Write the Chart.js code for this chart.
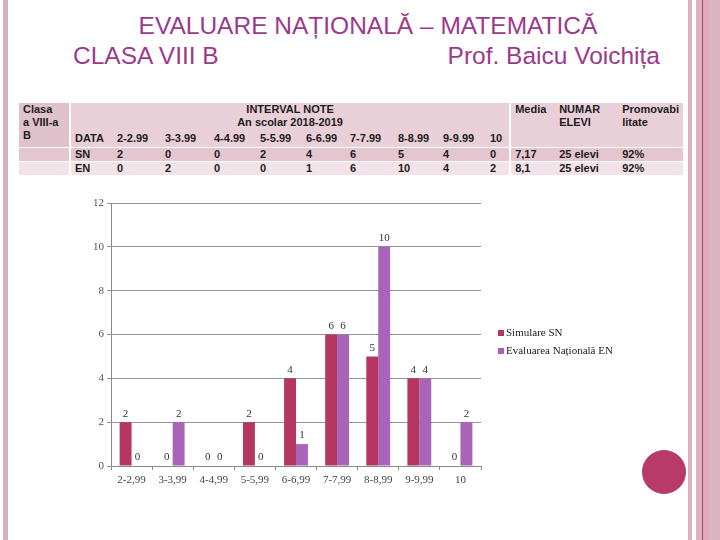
<!DOCTYPE html>
<html><head><meta charset="utf-8">
<script src="https://cdn.jsdelivr.net/npm/chart.js@4.4.0/dist/chart.umd.min.js"></script>
<style>
html,body{margin:0;padding:0;background:#fff;}
body{width:720px;height:540px;position:relative;overflow:hidden;font-family:"Liberation Sans",Arial,sans-serif;}
.abs{position:absolute;}
.title{color:#9b3a8c;font-size:24.5px;line-height:28px;white-space:nowrap;}
#tbl{position:absolute;left:19px;top:103px;width:664px;border-collapse:collapse;table-layout:fixed;font-size:11px;font-weight:bold;color:#1c1c1c;line-height:13px;}
#tbl td{padding:0 0 0 4px;white-space:nowrap;overflow:hidden;vertical-align:top;}
#tbl tr.r1 td{height:22px;background:#e9d0d8;}
#tbl tr.r2 td{height:16px;background:#e9d0d8;vertical-align:bottom;padding-bottom:2px;}
#tbl tr.r3 td{height:12px;background:#e4c6cf;border-top:1px solid #fff;}
#tbl tr.r4 td{height:12px;background:#f1e3e8;border-top:1px solid #fff;}
#tbl td.c1{border-right:2px solid #fff;}
#tbl td.ml{border-left:2px solid #fff;}
#tbl tr.r1 td.c1{background:#e0c2cc;padding-top:0;}
#tbl td.ctr{text-align:center;padding-left:0;}
#chartBox{position:absolute;left:60px;top:193px;width:630px;height:305px;}
</style></head>
<body>
<div class="abs" style="left:3px;top:0;width:5px;height:540px;background:#d6b0bf"></div>
<div class="abs" style="left:688px;top:0;width:4px;height:540px;background:#dcb3c1"></div>
<div class="abs" style="left:696px;top:0;width:6px;height:540px;background:#e2b0c0"></div>
<div class="abs" style="left:702px;top:0;width:1px;height:540px;background:#a84466"></div>
<div class="abs" style="left:703px;top:0;width:6px;height:540px;background:#e3a9bb"></div>
<div class="abs" style="left:709px;top:0;width:11px;height:540px;background:#d9b5c1"></div>

<div class="abs title" style="left:0;width:736px;top:12px;text-align:center;">EVALUARE NAȚIONALĂ – MATEMATICĂ</div>
<div class="abs title" style="left:73px;top:42px;">CLASA VIII B</div>
<div class="abs title" style="right:60px;top:42px;">Prof. Baicu Voichița</div>

<table id="tbl"></table>

<div id="chartBox"><canvas id="c" width="630" height="305"></canvas></div>
<div class="abs" style="left:642px;top:450px;width:44px;height:44px;border-radius:50%;background:#b83a68"></div>

<script>
const categories = ["2-2,99","3-3,99","4-4,99","5-5,99","6-6,99","7-7,99","8-8,99","9-9,99","10"];
const tableIntervals = ["2-2.99","3-3.99","4-4.99","5-5.99","6-6.99","7-7.99","8-8.99","9-9.99","10"];
const seriesNames = ["Simulare SN","Evaluarea Națională EN"];
const rowCodes = ["SN","EN"];
const simulareSN = [2,0,0,2,4,6,5,4,0];
const evaluareEN = [0,2,0,0,1,6,10,4,2];
const media = ["7,17","8,1"];
const numarElevi = ["25 elevi","25 elevi"];
const promovabilitate = ["92%","92%"];
const yMin = 0, yMax = 12, yStep = 2;

// ---- table ----
const colWidths = [51,43,48,49,46,46,44,48,45,47,24,45,63,65];
let html = '<colgroup>' + colWidths.map(w=>'<col style="width:'+w+'px">').join('') + '</colgroup>';
html += '<tr class="r1"><td class="c1" rowspan="2">Clasa<br>a VIII-a<br>B</td>' +
        '<td class="ctr" colspan="10">INTERVAL NOTE<br>An scolar 2018-2019</td>' +
        '<td class="ml" rowspan="2">Media</td><td rowspan="2">NUMAR<br>ELEVI</td><td rowspan="2">Promovabi<br>litate</td></tr>';
html += '<tr class="r2"><td>DATA</td>' + tableIntervals.map(t=>'<td>'+t+'</td>').join('') + '</tr>';
const rowsData = [simulareSN, evaluareEN];
rowsData.forEach((arr,i)=>{
  html += '<tr class="r'+(i+3)+'"><td class="c1"></td><td>'+rowCodes[i]+'</td>' +
          arr.map(v=>'<td>'+v+'</td>').join('') +
          '<td class="ml">'+media[i]+'</td><td>'+numarElevi[i]+'</td><td>'+promovabilitate[i]+'</td></tr>';
});
document.getElementById('tbl').innerHTML = html;

// ---- chart ----
const colors = ['#b5365f','#a963b9'];
const serif = '"Liberation Serif","Times New Roman",serif';

const valueLabels = {
  id:'valueLabels',
  afterDatasetsDraw(chart){
    const ctx = chart.ctx; ctx.save();
    ctx.font = '11px ' + serif; ctx.fillStyle = '#333';
    ctx.textAlign = 'center'; ctx.textBaseline = 'bottom';
    chart.data.datasets.forEach((ds,i)=>{
      chart.getDatasetMeta(i).data.forEach((bar,j)=>{
        ctx.fillText(String(ds.data[j]), bar.x, bar.y - 3);
      });
    });
    ctx.restore();
  }
};
const sideLegend = {
  id:'sideLegend',
  afterDraw(chart){
    const ctx = chart.ctx, a = chart.chartArea; ctx.save();
    ctx.font = '11px ' + serif; ctx.textBaseline = 'middle'; ctx.textAlign = 'left';
    chart.data.datasets.forEach((ds,i)=>{
      const x = a.right + 17, y = 140 + i*18;
      ctx.fillStyle = ds.backgroundColor; ctx.fillRect(x, y-3, 6, 6);
      ctx.fillStyle = '#222'; ctx.fillText(ds.label, x + 8, y);
    });
    ctx.restore();
  }
};

new Chart(document.getElementById('c'), {
  type:'bar',
  data:{ labels:categories, datasets:[
    {label:seriesNames[0], data:simulareSN, backgroundColor:colors[0]},
    {label:seriesNames[1], data:evaluareEN, backgroundColor:colors[1]}
  ]},
  options:{
    responsive:false, animation:false, devicePixelRatio:1,
    layout:{padding:{top:10,left:0,right:209,bottom:0}},
    datasets:{bar:{categoryPercentage:0.58,barPercentage:1.0}},
    plugins:{legend:{display:false},tooltip:{enabled:false}},
    scales:{
      x:{
        grid:{display:true,drawOnChartArea:false,offset:true,tickLength:4,color:'#888'},
        border:{color:'#888'},
        ticks:{font:{family:serif,size:11},color:'#444',padding:4,maxRotation:0,autoSkip:false},
        afterFit(s){ s.height = 32; }
      },
      y:{
        min:yMin, max:yMax,
        ticks:{stepSize:yStep,font:{family:serif,size:11},color:'#555',padding:3},
        grid:{color:'#959595',tickLength:4},
        border:{color:'#888'},
        afterFit(s){ s.width = 51; }
      }
    }
  },
  plugins:[valueLabels, sideLegend]
});
</script>
</body></html>
